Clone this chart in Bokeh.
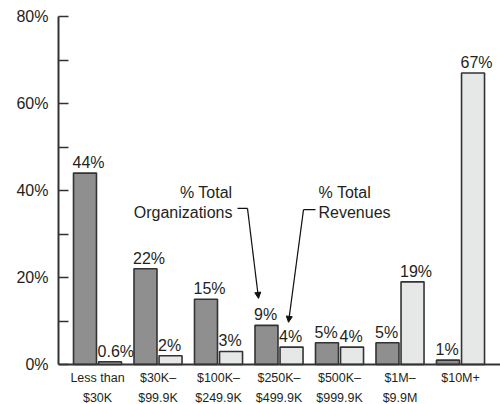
from bokeh.plotting import figure
from bokeh.models import (FixedTicker, PrintfTickFormatter, Range1d, Label, Arrow, NormalHead,
                          ColumnDataSource, Span)
from bokeh.embed import file_html
from bokeh.resources import INLINE
from bokeh.core.properties import value

# ---- data ----
categories = ["Less than\n$30K", "$30K–\n$99.9K", "$100K–\n$249.9K", "$250K–\n$499.9K",
              "$500K–\n$999.9K", "$1M–\n$9.9M", "$10M+"]
pct_organizations = [44, 22, 15, 9, 5, 5, 1]
pct_revenues = [0.6, 2, 3, 4, 4, 19, 67]
y_ticks = [0, 20, 40, 60, 80]
y_minor_ticks = [10, 30, 50, 70]

FONT_NAME = "Liberation Sans"
FONT = value(FONT_NAME)
TXT = "#231f20"
DARK = "#8f8f8f"
LIGHT = "#e6e7e7"
EDGE = "#333333"
OFF = 0.207
W = 0.38

idx = list(range(len(categories)))
src = ColumnDataSource(dict(
    x_org=[i - OFF for i in idx],
    x_rev=[i + OFF for i in idx],
    xl_org=[i - OFF - W / 2 for i in idx],
    xl_rev=[i + OFF - W / 2 for i in idx],
    org=pct_organizations,
    rev=pct_revenues,
    org_lab=[f"{v:g}%" for v in pct_organizations],
    rev_lab=[f"{v:g}%" for v in pct_revenues],
))
cat_src = ColumnDataSource(dict(
    x=idx,
    y=[0] * len(idx),
    l1=[c.split("\n")[0] for c in categories],
    l2=[(c.split("\n") + [""])[1] for c in categories],
))

# frame: 80% at top (px 16), 0% at px 364, frame continues to bottom (px 404)
p = figure(width=500, height=404, x_range=Range1d(-0.645, 6.661), y_range=Range1d(-40 / 4.35, 80),
           output_backend="svg", toolbar_location=None,
           min_border_left=58, min_border_right=0, min_border_top=16, min_border_bottom=0)
p.outline_line_color = None
p.grid.visible = False
p.background_fill_color = "white"
p.xaxis.visible = False

p.vbar(x="x_org", top="org", bottom=0, width=W, source=src, fill_color=DARK,
       line_color=EDGE, line_width=1.6)
p.vbar(x="x_rev", top="rev", bottom=0, width=W, source=src, fill_color=LIGHT,
       line_color=EDGE, line_width=1.6)

# baseline
p.add_layout(Span(location=0, dimension="width", line_color=EDGE, line_width=2))

for xcol, lab, ycol in (("xl_org", "org_lab", "org"), ("xl_rev", "rev_lab", "rev")):
    p.text(x=xcol, y=ycol, text=lab, source=src, text_align="left", text_baseline="bottom",
           x_offset=-1, y_offset=-2, text_font=FONT, text_font_size="16px", text_color=TXT)

# category labels
for col, off in (("l1", 13), ("l2", 33)):
    p.text(x="x", y="y", text=col, source=cat_src, text_align="center", text_baseline="middle",
           y_offset=off, text_font=FONT, text_font_size="12.5px", text_color=TXT)

# y axis
ya = p.yaxis[0]
ya.bounds = (0, 80)
ya.ticker = FixedTicker(ticks=y_ticks, minor_ticks=y_minor_ticks)
ya.formatter = PrintfTickFormatter(format="%d%%")
ya.axis_line_color = EDGE
ya.axis_line_width = 2
ya.major_tick_in = 10
ya.major_tick_out = 0
ya.minor_tick_in = 10
ya.minor_tick_out = 0
ya.major_tick_line_color = EDGE
ya.minor_tick_line_color = EDGE
ya.major_tick_line_width = 1.5
ya.minor_tick_line_width = 1.5
ya.major_label_standoff = 10
ya.major_label_text_font = FONT_NAME
ya.major_label_text_font_size = "16px"
ya.major_label_text_color = TXT

# annotations
for txt, x, y, al in (("% Total", 2.23, 39.5, "right"), ("Organizations", 2.23, 34.9, "right"),
                      ("% Total", 3.653, 39.5, "left"), ("Revenues", 3.653, 34.9, "left")):
    p.add_layout(Label(x=x, y=y, text=txt, text_align=al, text_baseline="middle",
                       text_font=FONT_NAME, text_font_size="16px", text_color=TXT))

p.add_layout(Arrow(end=None, x_start=2.314, y_start=35.9, x_end=2.479, y_end=35.9,
                   line_color="#111111", line_width=1.2))
p.add_layout(Arrow(end=NormalHead(size=6, fill_color="#111111", line_color="#111111"),
                   x_start=2.479, y_start=35.9, x_end=2.661, y_end=15.2,
                   line_color="#111111", line_width=1.2))
p.add_layout(Arrow(end=None, x_start=3.603, y_start=35.6, x_end=3.405, y_end=35.6,
                   line_color="#111111", line_width=1.2))
p.add_layout(Arrow(end=NormalHead(size=6, fill_color="#111111", line_color="#111111"),
                   x_start=3.405, y_start=35.6, x_end=3.157, y_end=9.7,
                   line_color="#111111", line_width=1.2))

open("out.html", "w").write(file_html(p, INLINE))
